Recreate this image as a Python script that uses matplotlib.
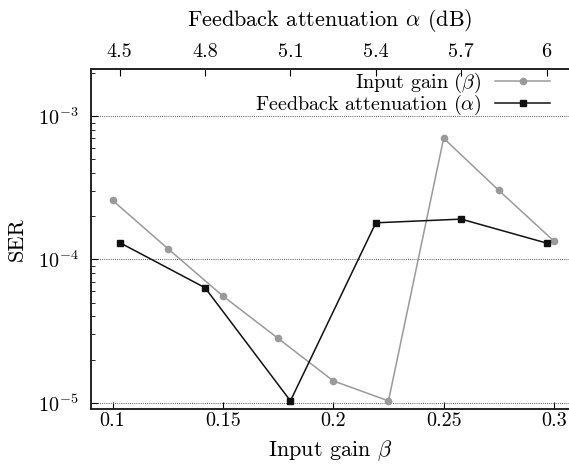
import matplotlib
matplotlib.use("Agg")
from matplotlib import pyplot as plt
from matplotlib.ticker import LogLocator, NullFormatter, FixedLocator

# Input gain sweep (bottom axis)
BETA = [0.1, 0.125, 0.15, 0.175, 0.2, 0.225, 0.25, 0.275, 0.3]
SER_BETA = [2.58e-4, 1.19e-4, 5.55e-5, 2.81e-5, 1.42e-5, 1.03e-5, 7.0e-4, 3.03e-4, 1.34e-4]

# Feedback attenuation sweep (top axis)
ALPHA = [4.5, 4.8, 5.1, 5.4, 5.7, 6.0]
SER_ALPHA = [1.31e-4, 6.34e-5, 1.03e-5, 1.80e-4, 1.91e-4, 1.30e-4]

ALPHA_TICKS = [4.5, 4.8, 5.1, 5.4, 5.7, 6.0]
ALPHA_TICK_LABELS = ["4.5", "4.8", "5.1", "5.4", "5.7", "6"]
BETA_TICKS = [0.1, 0.15, 0.2, 0.25, 0.3]
BETA_TICK_LABELS = ["0.1", "0.15", "0.2", "0.25", "0.3"]

plt.rcParams["font.family"] = "serif"
plt.rcParams["font.serif"] = ["cmr10"]
plt.rcParams["mathtext.fontset"] = "cm"
plt.rcParams["axes.unicode_minus"] = False

GRAY = "#9a9a9a"
BLACK = "#111111"
TICK_SIZE = 14.5
LABEL_SIZE = 16

fig = plt.figure(figsize=(5.69, 4.73), dpi=100)
ax = fig.add_axes([0.1599, 0.1353, 0.8401, 0.7188])
ax2 = ax.twiny()

line_beta, = ax.plot(BETA, SER_BETA, color=GRAY, marker="o", markersize=4.5,
                     linewidth=1.1, label=r"Input gain $(\beta)$")
line_alpha, = ax2.plot(ALPHA, SER_ALPHA, color=BLACK, marker="s", markersize=4.5,
                       linewidth=1.1, label=r"Feedback attenuation $(\alpha)$")

ax.set_yscale("log")
ax.set_ylim(9.04e-6, 2.13e-3)
ax.set_xlim(0.0902, 0.3068)
ax2.set_xlim(4.3992, 6.0787)

ax.yaxis.set_major_locator(LogLocator(base=10, numticks=10))
ax.yaxis.set_minor_locator(LogLocator(base=10, subs=range(2, 10), numticks=10))
ax.yaxis.set_minor_formatter(NullFormatter())

ax.xaxis.set_major_locator(FixedLocator(BETA_TICKS))
ax.set_xticklabels(BETA_TICK_LABELS)
ax2.xaxis.set_major_locator(FixedLocator(ALPHA_TICKS))
ax2.set_xticklabels(ALPHA_TICK_LABELS)

ax.grid(axis="y", which="major", linestyle=(0, (1, 1.2)), color="#555555", linewidth=0.7)

ax.tick_params(axis="x", which="both", direction="in", top=False, length=5,
               labelsize=TICK_SIZE, pad=2)
ax.tick_params(axis="y", which="major", direction="in", right=False, length=5,
               labelsize=TICK_SIZE, pad=9)
ax.tick_params(axis="y", which="minor", direction="in", right=False, length=3)
ax2.tick_params(axis="x", direction="in", length=5, labelsize=TICK_SIZE, pad=6)

for a in (ax, ax2):
    a.spines["right"].set_visible(False)
    for side in ("left", "bottom", "top"):
        a.spines[side].set_linewidth(1.2)
        a.spines[side].set_color("#222222")

ax.set_xlabel(r"Input gain $\beta$", fontsize=LABEL_SIZE, labelpad=6)
ax2.set_xlabel(r"Feedback attenuation $\alpha$ (dB)", fontsize=LABEL_SIZE, labelpad=12)
ax.set_ylabel("SER", fontsize=LABEL_SIZE, labelpad=8)

ax2.legend(handles=[line_beta, line_alpha], loc="upper right", frameon=False,
           markerfirst=False, fontsize=TICK_SIZE, handlelength=2.7, handletextpad=0.7,
           borderaxespad=0.2, labelspacing=-0.1, bbox_to_anchor=(0.985, 1.03))

fig.savefig("out.png", dpi=100)
